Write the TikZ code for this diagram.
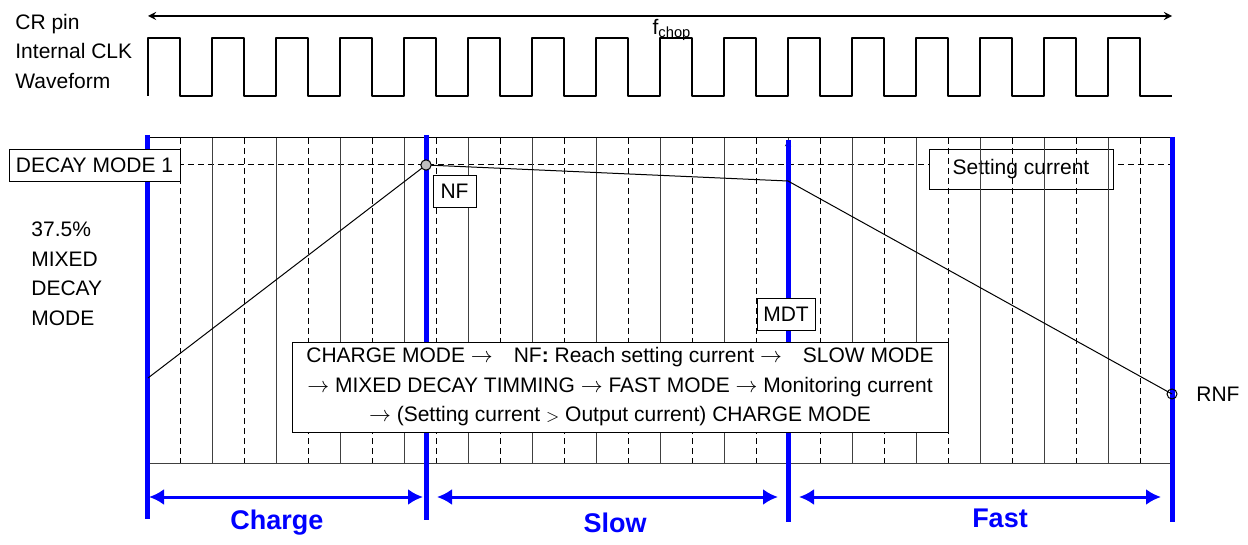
\documentclass[tikz,border=0pt]{standalone}
\usepackage{fontspec}
\setmainfont{Liberation Sans}
\usetikzlibrary{arrows.meta}
\tikzset{
  lbl/.style={font=\fontsize{10.5}{14.75}\selectfont},
  tag/.style={lbl, draw, fill=white, inner sep=0pt, minimum height=16pt},
  phase/.style={blue, line width=2.5pt},
  phasearr/.style={blue, line width=1.5pt, {Latex[length=7.5pt,width=8pt]}-{Latex[length=7.5pt,width=8pt]}},
  phaselbl/.style={blue, font=\fontsize{13.5}{16}\selectfont\bfseries},
  gridsolid/.style={black!75, line width=0.5pt},
  griddash/.style={black, line width=0.5pt, dash pattern=on 3pt off 2pt},
}
\begin{document}
\begin{tikzpicture}[>=stealth,x=0.5pt,y=-0.5pt]
  \useasboundingbox (0,0) rectangle (1248,545);
  \coordinate (T0) at (148,16);
  \coordinate (T1) at (1172,16);
  % clock
  \draw[<->, line width=0.8pt] (T0)--(T1);
  \draw[line width=1pt, line join=round] (148,96)
    \foreach \k in {0,...,15} {-- ++(0,-58) -- ++(32,0) -- ++(0,58) -- ++(32,0)};
  \node[lbl] (fchop) at (672,30) {f\textsubscript{chop}};
  \node[lbl, align=left, anchor=west, inner sep=0pt] (clk) at (15,51) {CR pin\\Internal CLK\\Waveform};
  % grid
  \draw[griddash] (148,165)--(1172,165);
  \node[lbl, draw, fill=white, inner sep=0pt, minimum width=92pt, minimum height=20pt] (setcur) at (1021,169) {Setting current};
  \draw[black, line width=0.5pt] (148,138)--(1172,138);
  \draw[gridsolid] (148,463)--(1172,463);
  \foreach \k in {0,...,14}
    \draw[gridsolid] ({212+64*\k},138)--({212+64*\k},463);
  \foreach \k in {0,...,15}
    \draw[griddash] ({180+64*\k},138)--({180+64*\k},463);
  % phases
  \coordinate (S1) at (147,135);
  \coordinate (E1) at (147,519);
  \coordinate (S2) at (426,135);
  \coordinate (E2) at (426,520);
  \coordinate (S3) at (788,140);
  \coordinate (E3) at (788,522);
  \coordinate (S4) at (1172,137);
  \coordinate (E4) at (1172,522);
  \coordinate (M0) at (788,298);
  \draw[->, line width=0.4pt] (M0)--(S3);
  \draw[phase] (S1)--(E1);
  \draw[phase] (S2)--(E2);
  \draw[phase] (S3)--(E3);
  \draw[phase] (S4)--(E4);
  \coordinate (A1) at (147,497);
  \coordinate (A2) at (426,497);
  \coordinate (A3) at (788,497);
  \coordinate (A4) at (1172,497);
  \draw[phasearr, shorten <=1pt, shorten >=1.5pt] (A1)--(A2);
  \draw[phasearr, shorten <=5.5pt, shorten >=5pt] (A2)--(A3);
  \draw[phasearr, shorten <=5.5pt, shorten >=5.5pt] (A3)--(A4);
  \node[phaselbl] (charge) at (277,523) {Charge};
  \node[phaselbl] (slow) at (615,523) {Slow};
  \node[phaselbl] (fast) at (1000,518) {Fast};
  % current
  \coordinate (P0) at (148,378);
  \coordinate (NFp) at (426,165);
  \coordinate (MDp) at (788,181);
  \coordinate (RNFp) at (1172,394);
  \draw[line width=0.5pt] (P0)--(NFp)--(MDp)--(RNFp);
  \draw[line width=0.5pt, fill=black!25] (NFp) circle (2.6pt);
  \draw[line width=0.5pt] (RNFp) circle (2.5pt);
  % labels
  \node[tag, minimum width=85.5pt] (decay) at (94.5,165) {DECAY MODE 1};
  \node[tag, minimum width=21.5pt] (nf) at (454.5,191) {NF};
  \node[tag, minimum width=29pt] (mdt) at (786,314) {MDT};
  \node[lbl, align=left, anchor=west, inner sep=0pt] (mixed) at (31,274) {37.5\%\\MIXED\\DECAY\\MODE};
  \node[lbl, anchor=west, inner sep=0pt] (rnf) at (1196,394) {RNF};
  \node[lbl, draw, fill=white, align=center, inner sep=0pt, minimum width=328pt, minimum height=45pt] (flow) at (620,387)
    {CHARGE MODE $\rightarrow$\quad NF\textbf{:} Reach setting current $\rightarrow$\quad SLOW MODE\\
     $\rightarrow$ MIXED DECAY TIMMING $\rightarrow$ FAST MODE $\rightarrow$ Monitoring current\\
     $\rightarrow$ (Setting current {\footnotesize$>$} Output current) CHARGE MODE};
\end{tikzpicture}
\end{document}
